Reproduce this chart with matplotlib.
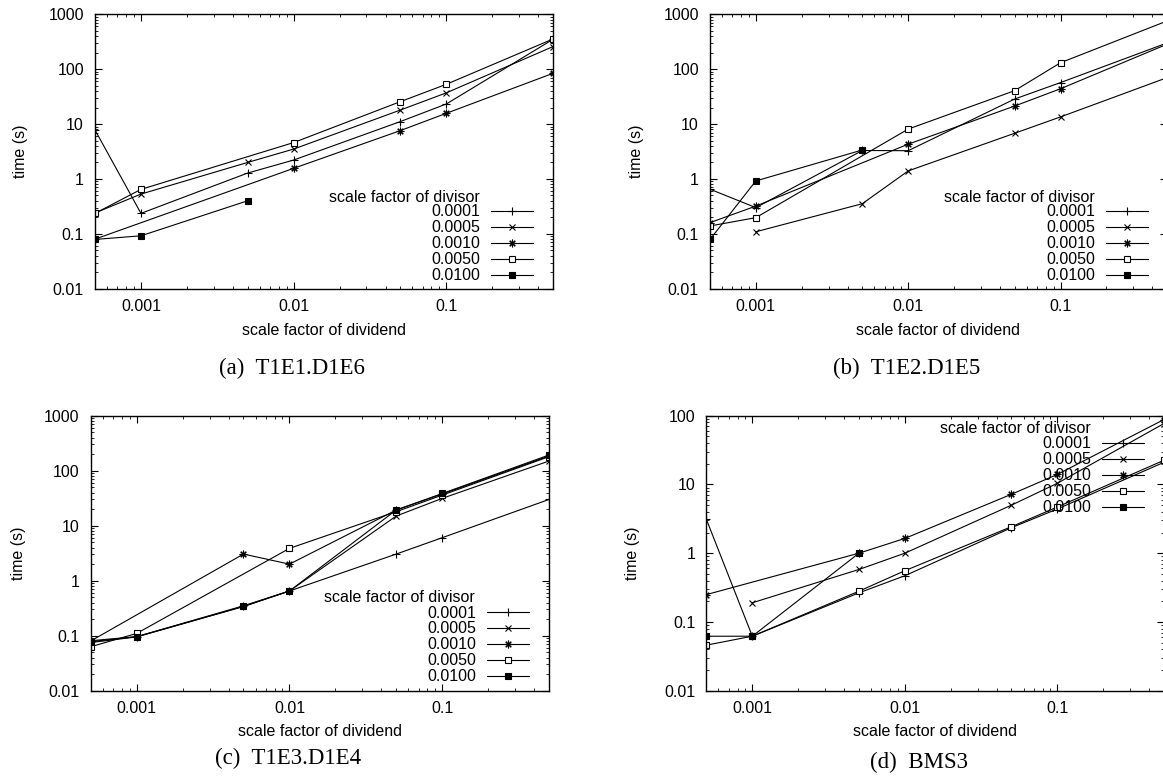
import numpy as np
import matplotlib
matplotlib.use("Agg")
import matplotlib.pyplot as plt
from matplotlib.ticker import FixedLocator, FuncFormatter, LogLocator, NullFormatter

W, H = 1163, 782

divisor_labels = ["0.0001", "0.0005", "0.0010", "0.0050", "0.0100"]
y_ticks_big = [0.01, 0.1, 1, 10, 100, 1000]
y_ticks_small = [0.01, 0.1, 1, 10, 100]
x_ticks = [0.001, 0.01, 0.1]

# (a) T1E1.D1E6 : dividend scale factors and times, one list per divisor
a_x = [[0.0005, 0.001, 0.005, 0.01, 0.05, 0.1, 0.5],
       [0.0005, 0.001, 0.005, 0.01, 0.05, 0.1, 0.5],
       [0.0005, 0.01, 0.05, 0.1, 0.5],
       [0.0005, 0.001, 0.01, 0.05, 0.1, 0.5],
       [0.0005, 0.001, 0.005]]
a_t = [[7.8, 0.236, 1.28, 2.21, 11.1, 23.2, 350],
       [0.24, 0.53, 2.0, 3.5, 18, 37, 258],
       [0.08, 1.56, 7.6, 15.7, 84],
       [0.236, 0.645, 4.6, 25.6, 53, 355],
       [0.079, 0.092, 0.40]]

# (b) T1E2.D1E5
b_x = [[0.0005, 0.001, 0.005, 0.01, 0.05, 0.1, 0.5],
       [0.001, 0.005, 0.01, 0.05, 0.1, 0.5],
       [0.0005, 0.001, 0.01, 0.05, 0.1, 0.5],
       [0.0005, 0.001, 0.01, 0.05, 0.1, 0.5],
       [0.0005, 0.001, 0.005]]
b_t = [[0.65, 0.30, 3.3, 3.27, 28.6, 57, 300],
       [0.109, 0.354, 1.40, 6.8, 13.5, 70],
       [0.16, 0.32, 4.3, 21.3, 44, 285],
       [0.139, 0.197, 8.1, 40.6, 131, 755],
       [0.079, 0.92, 3.37]]

# (c) T1E3.D1E4
c_x = [[0.0005, 0.001, 0.005, 0.01, 0.05, 0.1, 0.5],
       [0.0005, 0.001, 0.005, 0.01, 0.05, 0.1, 0.5],
       [0.0005, 0.005, 0.01, 0.05, 0.1, 0.5],
       [0.0005, 0.001, 0.01, 0.05, 0.1, 0.5],
       [0.0005, 0.001, 0.005, 0.01, 0.05, 0.1, 0.5]]
c_t = [[0.081, 0.096, 0.34, 0.65, 3.05, 6.05, 30],
       [0.075, 0.095, 0.34, 0.65, 15, 31.4, 150],
       [0.08, 3.05, 2.0, 19.3, 37.7, 185],
       [0.063, 0.11, 3.87, 18, 36, 180],
       [0.078, 0.096, 0.35, 0.65, 19.3, 38.5, 193]]

# (d) BMS3
d_x = [[0.0005, 0.001, 0.005, 0.01, 0.05, 0.1, 0.5],
       [0.001, 0.005, 0.01, 0.05, 0.1, 0.5],
       [0.0005, 0.005, 0.01, 0.05, 0.1, 0.5],
       [0.0005, 0.001, 0.005, 0.01, 0.05, 0.1, 0.5],
       [0.0005, 0.001, 0.005]]
d_t = [[3.1, 0.062, 0.265, 0.47, 2.35, 4.4, 21],
       [0.19, 0.58, 1.0, 5.0, 10.4, 77],
       [0.25, 1.0, 1.64, 7.2, 14, 88],
       [0.046, 0.062, 0.28, 0.556, 2.43, 4.7, 22.5],
       [0.062, 0.062, 1.0]]

captions = ["(a)  T1E1.D1E6", "(b)  T1E2.D1E5", "(c)  T1E3.D1E4", "(d)  BMS3"]

# gnuplot point types 1..5
markers = [dict(marker="+", ms=5.5, mew=0.8),
           dict(marker="x", ms=4.3, mew=0.8),
           dict(marker=(8, 2, 0), ms=5.5, mew=0.8),
           dict(marker="s", ms=4.2, mfc="white", mew=0.8),
           dict(marker="s", ms=4.7, mew=0.8)]

plt.rcParams["font.family"] = ["Liberation Sans", "DejaVu Sans"]
FS = 11.5

fig = plt.figure(figsize=(W / 100, H / 100), dpi=100)
fig.patch.set_facecolor("white")


def fx(px):
    return px / W


def fy(py):
    return 1 - py / H


# pixel layout: axes box (left, right, top, bottom), ylabel x, xlabel y,
# caption (x, y), legend key block top-right corner, key title (right x, y)
layout = [
    dict(box=(95, 553, 14.3, 288.7), ylab=20, xlab=330, cap=(292, 368),
         leg=(533.3, 204.5), title=(480, 197), ylim=(0.01, 1000), yt=y_ticks_big),
    dict(box=(710, 1167, 14.3, 288.7), ylab=636, xlab=330, cap=(907, 368),
         leg=(1148, 204.5), title=(1095, 197), ylim=(0.01, 1000), yt=y_ticks_big),
    dict(box=(90.7, 549, 415.7, 690.7), ylab=18, xlab=731, cap=(288, 758),
         leg=(529, 605.5), title=(475, 598), ylim=(0.01, 1000), yt=y_ticks_big),
    dict(box=(706.4, 1164, 415.7, 690.7), ylab=632, xlab=731, cap=(919, 762),
         leg=(1144, 436.5), title=(1090.5, 429), ylim=(0.01, 100), yt=y_ticks_small),
]
panel_x = [a_x, b_x, c_x, d_x]
panel_t = [a_t, b_t, c_t, d_t]

fmt = FuncFormatter(lambda v, p: f"{v:g}")

for lay, xs, ts, cap in zip(layout, panel_x, panel_t, captions):
    l, r, t, b = lay["box"]
    ax = fig.add_axes([fx(l), fy(b), (r - l) / W, (b - t) / H])
    for x, y, lab, m in zip(xs, ts, divisor_labels, markers):
        ax.plot(x, y, color="black", lw=0.8, label=lab, **m)
    ax.set_xscale("log")
    ax.set_yscale("log")
    ax.set_xlim(0.0005, 0.5)
    ax.set_ylim(*lay["ylim"])
    ax.xaxis.set_major_locator(FixedLocator(x_ticks))
    ax.yaxis.set_major_locator(FixedLocator(lay["yt"]))
    ax.xaxis.set_major_formatter(fmt)
    ax.yaxis.set_major_formatter(fmt)
    for axis in (ax.xaxis, ax.yaxis):
        axis.set_minor_locator(LogLocator(base=10, subs=np.arange(2, 10), numticks=20))
        axis.set_minor_formatter(NullFormatter())
    ax.tick_params(which="both", direction="in", top=True, right=True, labelsize=FS)
    ax.tick_params(which="major", length=5, width=0.8)
    ax.tick_params(which="minor", length=2.5, width=0.6)
    ax.tick_params(axis="x", which="major", pad=7.5)
    ax.tick_params(axis="y", which="major", pad=8)
    for s in ax.spines.values():
        s.set_linewidth(1.0)

    lx, ly = lay["leg"]
    ax.legend(loc="upper right", bbox_to_anchor=(fx(lx), fy(ly)),
              bbox_transform=fig.transFigure, markerfirst=False, frameon=False,
              handlelength=2.65, handletextpad=0.65, labelspacing=0.06,
              borderpad=0, borderaxespad=0, fontsize=FS)
    tx, ty = lay["title"]
    fig.text(fx(tx), fy(ty), "scale factor of divisor", ha="right", va="center",
             fontsize=FS)

    fig.text(fx(lay["ylab"]), fy((t + b) / 2), "time (s)", rotation=90,
             ha="center", va="center", fontsize=FS)
    fig.text(fx((l + r) / 2), fy(lay["xlab"]), "scale factor of dividend",
             ha="center", va="center", fontsize=FS)
    cx, cy = lay["cap"]
    fig.text(fx(cx), fy(cy), cap, ha="center", va="center", fontsize=16.5,
             family="Liberation Serif")

fig.savefig("out.png", dpi=100, facecolor="white")
